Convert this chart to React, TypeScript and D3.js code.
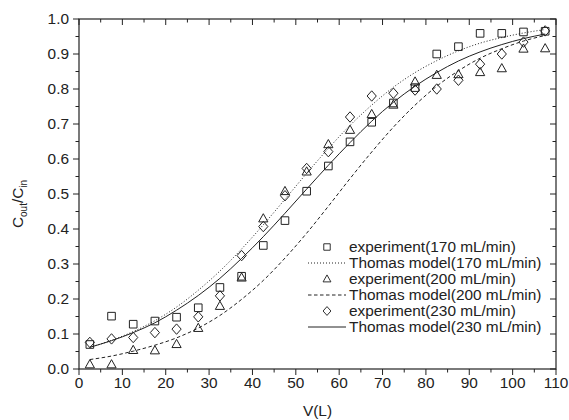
import React, { useRef, useEffect } from 'react';
import * as d3 from 'd3';

// Bed volume (L) where samples were taken
const volumes = [2.5, 7.5, 12.5, 17.5, 22.5, 27.5, 32.5, 37.5, 42.5, 47.5, 52.5,
  57.5, 62.5, 67.5, 72.5, 77.5, 82.5, 87.5, 92.5, 97.5, 102.5, 107.5];

// experiment points, Cout/Cin
const exp170 = [0.07, 0.151, 0.128, 0.137, 0.148, 0.175, 0.233, 0.265, 0.353, 0.424, 0.508,
  0.58, 0.649, 0.705, 0.76, 0.804, 0.9, 0.921, 0.959, 0.959, 0.963, 0.965];
const exp200 = [0.013, 0.013, 0.054, 0.053, 0.071, 0.117, 0.18, 0.261, 0.43, 0.508, 0.564,
  0.642, 0.683, 0.728, 0.755, 0.821, 0.84, 0.842, 0.848, 0.859, 0.915, 0.916];
const exp230 = [0.076, 0.086, 0.09, 0.104, 0.114, 0.149, 0.209, 0.324, 0.407, 0.495, 0.573,
  0.621, 0.72, 0.78, 0.788, 0.797, 0.8, 0.825, 0.871, 0.9, 0.934, 0.966];

// Thomas model curves at the same volumes
const model170 = [0.062, 0.082, 0.107, 0.138, 0.177, 0.225, 0.28, 0.343, 0.412, 0.485, 0.559,
  0.63, 0.696, 0.754, 0.805, 0.847, 0.881, 0.909, 0.931, 0.947, 0.96, 0.97];
const model200 = [0.027, 0.037, 0.051, 0.068, 0.089, 0.117, 0.153, 0.199, 0.253, 0.317, 0.388,
  0.465, 0.544, 0.62, 0.691, 0.754, 0.808, 0.852, 0.888, 0.915, 0.937, 0.953];
const model230 = [0.062, 0.081, 0.104, 0.132, 0.168, 0.21, 0.259, 0.316, 0.378, 0.445, 0.514,
  0.582, 0.647, 0.708, 0.762, 0.808, 0.847, 0.88, 0.906, 0.927, 0.944, 0.957];

const xTicks = [0, 10, 20, 30, 40, 50, 60, 70, 80, 90, 100, 110];
const yTicks = [0, 0.1, 0.2, 0.3, 0.4, 0.5, 0.6, 0.7, 0.8, 0.9, 1.0];

const legendItems = [
  { label: 'experiment(170 mL/min)', marker: 'square' },
  { label: 'Thomas model(170 mL/min)', dash: '1,2' },
  { label: 'experiment(200 mL/min)', marker: 'triangle' },
  { label: 'Thomas model(200 mL/min)', dash: '3.5,2.5' },
  { label: 'experiment(230 mL/min)', marker: 'diamond' },
  { label: 'Thomas model(230 mL/min)', dash: null },
];

const FONT = '"Liberation Sans", Arial, sans-serif';
const FS = '15.4px';
const INK = '#222';

/**
 * Path for one hollow marker centred on 0,0
 */
const markerPath = (kind) => {
  if (kind === 'square') return 'M-3.8,-3.8H3.8V3.8H-3.8Z';
  if (kind === 'triangle') return 'M0,-4.8L4.6,3.4H-4.6Z';
  return 'M0,-5.2L4.6,0L0,5.2L-4.6,0Z';
};

const Chart = ({ width = 569, height = 420 }) => {
  const ref = useRef();

  useEffect(() => {
    const svg = d3.select(ref.current);
    svg.selectAll('*').remove();

    const left = 79, right = 556, top = 19, bottom = 369;

    const x = d3.scaleLinear().domain([0, 110]).range([left, right]);
    const y = d3.scaleLinear().domain([0, 1]).range([bottom, top]);

    const minorX = d3.range(0, 111, 5);
    const minorY = d3.range(0, 1.001, 0.05);

    // frame
    svg.append('rect')
      .attr('x', left).attr('y', top)
      .attr('width', right - left).attr('height', bottom - top)
      .attr('fill', 'none').attr('stroke', INK).attr('stroke-width', 1.2);

    const ticks = svg.append('g').attr('stroke', INK).attr('stroke-width', 1);

    // bottom and left ticks point outward, top and right inward
    minorX.forEach(v => {
      const len = v % 10 === 0 ? 6 : 3.5;
      ticks.append('line').attr('x1', x(v)).attr('x2', x(v))
        .attr('y1', bottom).attr('y2', bottom + len);
      ticks.append('line').attr('x1', x(v)).attr('x2', x(v))
        .attr('y1', top).attr('y2', top + len);
    });
    minorY.forEach((v, i) => {
      const len = i % 2 === 0 ? 6 : 3.5;
      ticks.append('line').attr('x1', left - len).attr('x2', left)
        .attr('y1', y(v)).attr('y2', y(v));
      ticks.append('line').attr('x1', right - len).attr('x2', right)
        .attr('y1', y(v)).attr('y2', y(v));
    });

    // tick labels
    svg.append('g').selectAll('text')
      .data(xTicks)
      .join('text')
      .attr('x', d => x(d))
      .attr('y', 388)
      .attr('text-anchor', 'middle')
      .style('font-family', FONT).style('font-size', FS).attr('fill', INK)
      .text(d => d);

    svg.append('g').selectAll('text')
      .data(yTicks)
      .join('text')
      .attr('x', 69)
      .attr('y', d => y(d) + 5.4)
      .attr('text-anchor', 'end')
      .style('font-family', FONT).style('font-size', FS).attr('fill', INK)
      .text(d => d3.format('.1f')(d));

    // axis titles
    svg.append('text')
      .attr('x', (left + right) / 2)
      .attr('y', 416)
      .attr('text-anchor', 'middle')
      .style('font-family', FONT).style('font-size', FS).attr('fill', INK)
      .text('V(L)');

    const yLabel = svg.append('text')
      .attr('transform', 'translate(23, 204) rotate(-90)')
      .attr('text-anchor', 'middle')
      .style('font-family', FONT).style('font-size', FS).attr('fill', INK);
    yLabel.append('tspan').text('C');
    yLabel.append('tspan').attr('dy', 4).style('font-size', '10px').text('out');
    yLabel.append('tspan').attr('dy', -4).text('/C');
    yLabel.append('tspan').attr('dy', 4).style('font-size', '10px').text('in');

    // model curves
    const line = d3.line()
      .x((d, i) => x(volumes[i]))
      .y(d => y(d))
      .curve(d3.curveMonotoneX);

    [[model170, '1,2'], [model200, '3.5,2.5'], [model230, null]].forEach(([vals, dash]) => {
      svg.append('path')
        .attr('d', line(vals))
        .attr('fill', 'none')
        .attr('stroke', INK)
        .attr('stroke-width', 1)
        .attr('stroke-dasharray', dash);
    });

    // experiment markers
    [[exp170, 'square'], [exp200, 'triangle'], [exp230, 'diamond']].forEach(([vals, kind]) => {
      svg.append('g').selectAll('path')
        .data(vals)
        .join('path')
        .attr('transform', (d, i) => `translate(${x(volumes[i])},${y(d)})`)
        .attr('d', markerPath(kind))
        .attr('fill', 'none')
        .attr('stroke', INK)
        .attr('stroke-width', 1);
    });

    // legend
    const legend = svg.append('g');
    legendItems.forEach((item, i) => {
      const cy = 247 + i * 16;
      if (item.marker) {
        legend.append('path')
          .attr('transform', `translate(327,${cy}) scale(0.85)`)
          .attr('d', markerPath(item.marker))
          .attr('fill', 'none').attr('stroke', INK).attr('stroke-width', 1.1);
      } else {
        legend.append('line')
          .attr('x1', 308).attr('x2', 346)
          .attr('y1', cy).attr('y2', cy)
          .attr('stroke', INK).attr('stroke-width', 1)
          .attr('stroke-dasharray', item.dash);
      }
      legend.append('text')
        .attr('x', 349)
        .attr('y', cy + 5.4)
        .style('font-family', FONT).style('font-size', FS).attr('fill', INK)
        .text(item.label);
    });
  }, [width, height]);

  return <svg ref={ref} width={width} height={height}
    style={{ position: 'absolute', left: 0, top: 0, background: '#fff' }} />;
};

export default function App() {
  return <Chart />;
}
